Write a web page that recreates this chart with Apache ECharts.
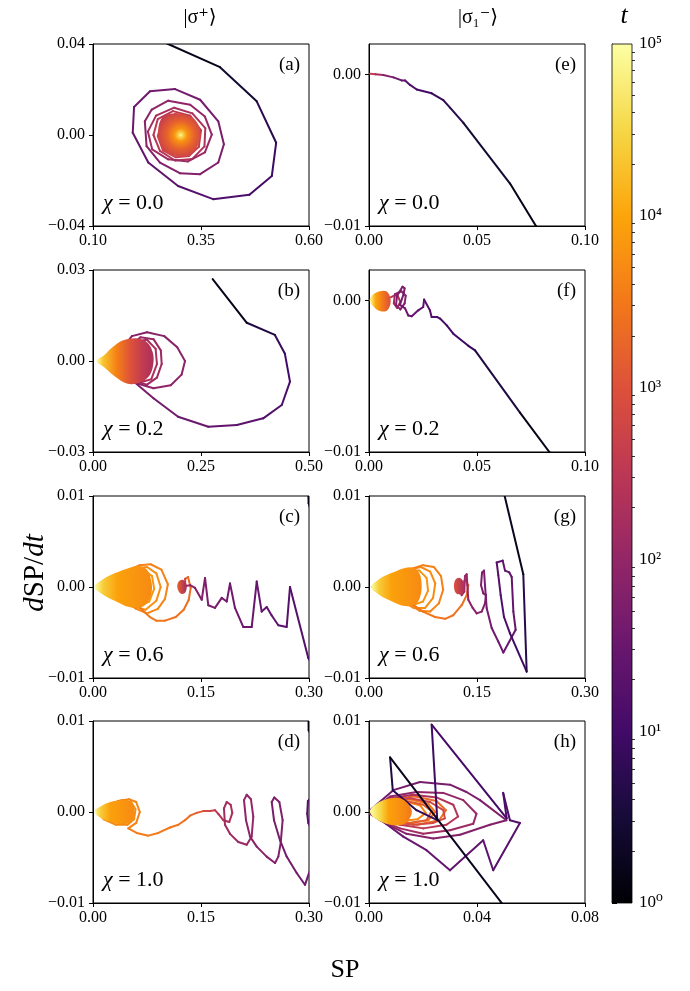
<!DOCTYPE html>
<html><head><meta charset="utf-8">
<script src="https://cdn.jsdelivr.net/npm/echarts@6/dist/echarts.min.js"></script>
<style>html,body{margin:0;padding:0;background:#fff}#c{width:690px;height:991px}</style>
</head><body><div id="c"></div>
<script>
// ---------------- DATA: [SP, dSP/dt, log10 t] ----------------
const xTicksA = [0.10, 0.35, 0.60], yTicksA = [-0.04, 0, 0.04];
const xTicksB = [0, 0.25, 0.5], yTicksB = [-0.03, 0, 0.03];
const xTicksCDG = [0, 0.15, 0.3], yTicks01 = [-0.01, 0, 0.01];
const xTicksEF = [0, 0.05, 0.1], yTicksEF = [-0.01, 0];
const xTicksH = [0, 0.04, 0.08];
const cbarTicks = [0, 1, 2, 3, 4, 5];
const chiValues = ['0.0', '0.2', '0.6', '1.0', '0.0', '0.2', '0.6', '1.0'];
const panelLetters = ['(a)', '(b)', '(c)', '(d)', '(e)', '(f)', '(g)', '(h)'];

const trajA = [
[0.22,0.0446,0],[0.274,0.040,0.1],[0.394,0.0298,0.3],[0.479,0.0148,0.6],[0.524,-0.0034,0.85],[0.514,-0.018,1.0],
[0.462,-0.0263,1.1],[0.378,-0.0282,1.2],[0.297,-0.0224,1.3],[0.228,-0.0121,1.4],[0.192,0.001,1.45],[0.195,0.0123,1.5],
[0.232,0.0192,1.55],[0.29,0.0202,1.6],[0.348,0.0155,1.65],[0.39,0.006,1.7],[0.403,-0.0041,1.72],[0.39,-0.0121,1.75],
[0.348,-0.0172,1.78],[0.301,-0.0168,1.8],[0.255,-0.0121,1.83],[0.224,-0.0049,1.86],[0.22,0.006,1.9],[0.236,0.0112,1.93],
[0.274,0.0151,1.96],[0.325,0.0133,2.0],[0.359,0.0081,2.03],[0.375,0.0002,2.06],[0.359,-0.0076,2.09],[0.32,-0.0116,2.12],
[0.274,-0.0107,2.15],[0.237,-0.0063,2.18],[0.227,0.0015,2.21],[0.246,0.0085,2.24],[0.288,0.012,2.27],[0.33,0.0095,2.3],
[0.36,0.003,2.33],[0.358,-0.005,2.36],[0.33,-0.0105,2.39],[0.29,-0.0112,2.42],[0.255,-0.007,2.45],[0.24,0.0,2.48],
[0.25,0.007,2.5],[0.285,0.0105,2.53],[0.325,0.0085,2.56],[0.35,0.002,2.6],[0.345,-0.0052,2.63],[0.322,-0.0092,2.66],
[0.292,-0.0098,2.69],[0.262,-0.0068,2.72],[0.25,-0.0005,2.75],[0.26,0.0062,2.78],[0.29,0.0092,2.81],[0.322,0.0075,2.84]];
const blobAPts = [[0.265,0.0085],[0.30,0.0095],[0.333,0.0072],[0.348,0.0018],[0.343,-0.0045],[0.324,-0.0087],[0.295,-0.0093],[0.265,-0.007],[0.252,-0.0015],[0.253,0.0048]];
const blobACenter = [0.303, 0.0];
const blobATimes = [[0,5],[0.06,4.6],[0.25,3.8],[0.55,3.2],[0.85,2.8],[1,2.6]];

const trajB = [
[0.277,0.027,0],[0.356,0.0126,0.4],[0.421,0.0086,0.8],[0.444,0.0025,0.95],[0.456,-0.0068,1.05],[0.437,-0.0145,1.15],
[0.394,-0.0189,1.25],[0.333,-0.0211,1.35],[0.267,-0.0217,1.45],[0.197,-0.0184,1.55],[0.14,-0.0123,1.65],[0.09,-0.0063,1.75],
[0.07,-0.002,1.78],[0.07,0.0045,1.8],[0.09,0.0082,1.82],[0.125,0.0095,1.84],[0.165,0.0082,1.86],[0.195,0.0045,1.88],
[0.213,0.0,1.9],[0.205,-0.0045,1.92],[0.18,-0.008,1.94],[0.14,-0.009,1.96],[0.105,-0.0075,1.98],[0.085,-0.0045,2.0],
[0.075,0.0,2.02],[0.085,0.005,2.04],[0.11,0.0078,2.06],[0.14,0.0072,2.08],[0.157,0.0035,2.1],[0.159,-0.001,2.12],
[0.148,-0.0055,2.14],[0.125,-0.0078,2.16],[0.1,-0.0068,2.18],[0.085,-0.004,2.2],[0.08,0.002,2.22],[0.1,0.0065,2.24],
[0.125,0.007,2.26],[0.145,0.004,2.28],[0.148,-0.001,2.3],[0.135,-0.006,2.32],[0.11,-0.007,2.34],[0.09,-0.004,2.36]];
const blobBPts = [[0.008,0.0],[0.025,0.0018],[0.045,0.0045],[0.07,0.0068],[0.1,0.0075],[0.125,0.0062],[0.138,0.003],[0.14,-0.0005],[0.132,-0.0045],[0.11,-0.007],[0.08,-0.0075],[0.05,-0.005],[0.025,-0.002]];
const blobBTimes = [[0,5],[0.12,4.3],[0.35,3.6],[0.6,3.0],[0.8,2.6],[1,2.3]];

const trajC = [
[0.2985,0.0115,0],[0.2995,0.0092,0.2],[0.325,0.002,0.6],[0.312,-0.0095,1.0],[0.299,-0.0078,1.2],[0.2736,0.0,1.25],
[0.269,-0.0044,1.3],[0.2574,-0.0042,1.33],[0.248,-0.0031,1.36],[0.2413,-0.0022,1.4],[0.2343,-0.0027,1.43],[0.2274,0.0006,1.46],
[0.2204,-0.0044,1.5],[0.2088,-0.0044,1.53],[0.1972,-0.0023,1.56],[0.1903,0.0004,1.6],[0.1857,-0.0016,1.63],[0.1788,-0.0012,1.66],
[0.1694,-0.0023,1.7],[0.1601,-0.002,1.73],[0.1556,0.001,1.76],[0.151,-0.0014,1.8],[0.1417,-0.0001,1.85],[0.135,0.0002,1.9],
[0.128,0.0001,2.2],[0.128,0.0009,3.2],[0.132,0.0011,3.3],[0.1357,-0.0001,3.35],[0.133,-0.0014,3.38],[0.126,-0.0025,3.4],
[0.115,-0.0033,3.42],[0.1,-0.0037,3.45],[0.088,-0.0037,3.47],[0.079,-0.0033,3.5],[0.068,-0.0025,3.51],[0.055,-0.0014,3.52],
[0.04,-0.0006,3.53],[0.02,-0.0001,3.54],[0.005,0.0,3.55],[0.02,0.0006,3.56],[0.045,0.0017,3.57],[0.065,0.0024,3.58],
[0.08,0.0025,3.6],[0.095,0.0019,3.61],[0.104,0.0003,3.62],[0.1,-0.0013,3.63],[0.09,-0.0024,3.64],[0.075,-0.0029,3.65],
[0.06,-0.0024,3.66],[0.04,-0.0013,3.67],[0.015,-0.0003,3.68],[0.005,0.0,3.7],[0.03,0.001,3.71],[0.055,0.002,3.72],
[0.075,0.0022,3.73],[0.088,0.0015,3.74],[0.094,0.0,3.75],[0.088,-0.0015,3.76],[0.073,-0.0025,3.77],[0.055,-0.0021,3.78],
[0.03,-0.001,3.79],[0.005,0.0,3.8],[0.03,0.0011,3.81],[0.055,0.0019,3.82],[0.07,0.0019,3.83],[0.082,0.0012,3.84],
[0.085,-0.0002,3.85],[0.078,-0.0016,3.86],[0.062,-0.0022,3.87],[0.04,-0.0015,3.88],[0.01,-0.0003,3.9]];
const blobCSmallPts = [[0.117,0.0],[0.119,0.0006],[0.124,0.0008],[0.129,0.0005],[0.13,-0.0002],[0.127,-0.0007],[0.121,-0.0007]];
const blobCSmallTimes = [[0,3.2],[1,2.2]];
const blobCPts = [[0.002,0.0],[0.015,0.0009],[0.03,0.0015],[0.05,0.0021],[0.065,0.0023],[0.075,0.0019],[0.08,0.001],[0.082,-0.0002],[0.078,-0.0014],[0.068,-0.0022],[0.05,-0.0022],[0.03,-0.0015],[0.015,-0.0009]];
const blobCTimes = [[0,5],[0.15,4.4],[0.4,3.95],[1,3.7]];

const trajD = [
[0.2992,0.0115,0],[0.2995,0.009,0.2],[0.33,0.004,0.7],[0.305,0.0018,1.1],[0.2985,0.0012,1.2],[0.2975,-0.0002,1.25],
[0.299,-0.0012,1.3],[0.31,-0.003,1.4],[0.3014,-0.0064,1.5],[0.2944,-0.008,1.55],[0.2829,-0.0067,1.6],[0.269,-0.0049,1.64],
[0.2597,-0.0031,1.67],[0.2514,-0.0009,1.7],[0.2482,0.0011,1.72],[0.2518,0.0016,1.74],[0.2588,0.0011,1.76],[0.2634,-0.0009,1.78],
[0.2607,-0.0034,1.8],[0.2574,-0.0049,1.82],[0.2528,-0.0056,1.84],[0.2412,-0.0049,1.87],[0.2274,-0.0038,1.9],[0.2181,-0.0027,1.93],
[0.2125,-0.0009,1.96],[0.2097,0.0013,1.98],[0.2135,0.0019,2.0],[0.2194,0.0014,2.02],[0.2226,-0.0005,2.04],[0.2204,-0.0027,2.06],
[0.2135,-0.0036,2.08],[0.2018,-0.0033,2.1],[0.1903,-0.0024,2.13],[0.1833,-0.0014,2.16],[0.1819,0.0004,2.19],[0.1857,0.0011,2.22],
[0.1912,0.0008,2.25],[0.1935,-0.0001,2.28],[0.1893,-0.0011,2.31],[0.181,-0.0009,2.35],[0.174,-0.0002,2.45],[0.1694,0.0002,2.6],
[0.1625,0.0001,2.8],[0.1532,0.0001,3.0],[0.144,-0.0001,3.2],[0.1347,-0.0004,3.35],[0.1278,-0.0009,3.42],[0.1185,-0.0014,3.46],
[0.1069,-0.0017,3.5],[0.0907,-0.0023,3.52],[0.0768,-0.0026,3.54],[0.0607,-0.0023,3.56],[0.049,-0.0018,3.58],[0.06,-0.0012,3.6],
[0.065,0.0,3.61],[0.06,0.0011,3.62],[0.05,0.0014,3.63],[0.035,0.0012,3.64],[0.02,0.0008,3.65],[0.005,0.0001,3.66],
[0.015,-0.0008,3.67],[0.032,-0.0014,3.68],[0.048,-0.0014,3.69],[0.057,-0.0008,3.7],[0.059,0.0003,3.71],[0.053,0.0011,3.72],
[0.04,0.0013,3.73],[0.02,0.0008,3.74],[0.005,0.0001,3.75],[0.02,-0.0009,3.76],[0.04,-0.0013,3.77],[0.052,-0.0011,3.78],
[0.057,-0.0002,3.79],[0.054,0.0008,3.8],[0.045,0.0013,3.81],[0.025,0.001,3.82],[0.005,0.0002,3.85]];
const blobDPts = [[0.002,0.0],[0.012,0.0007],[0.025,0.0011],[0.04,0.0013],[0.05,0.0012],[0.056,0.0006],[0.057,-0.0003],[0.053,-0.001],[0.04,-0.0013],[0.025,-0.0011],[0.012,-0.0007]];
const blobDTimes = [[0,5],[0.15,4.4],[0.4,3.95],[1,3.7]];

const trajE = [
[0.080,-0.0105,0],[0.0773,-0.0100,0.05],[0.0653,-0.0072,0.3],[0.0437,-0.0032,0.6],[0.0375,-0.0022,0.75],[0.0344,-0.0017,0.8],
[0.029,-0.00125,0.95],[0.0221,-0.001,1.1],[0.019,-0.0007,1.2],[0.0167,-0.0004,1.3],[0.0151,-0.0004,1.4],[0.0113,-0.0002,1.65],
[0.0066,-0.00005,2.0],[0.003,0.0,2.4],[0.0005,0.00004,2.8]];

const trajF = [
[0.086,-0.0105,0],[0.0835,-0.0100,0.05],[0.0699,-0.0074,0.35],[0.0491,-0.0033,0.85],[0.046,-0.003,0.9],[0.039,-0.0022,1.0],
[0.036,-0.00165,1.05],[0.0329,-0.0012,1.1],[0.0316,-0.0011,1.15],[0.029,-0.0011,1.2],[0.0282,-0.00066,1.25],[0.0255,0.00005,1.3],
[0.0251,-0.00044,1.35],[0.0228,-0.00066,1.4],[0.0198,-0.00105,1.45],[0.0182,-0.001,1.5],[0.0167,-0.00053,1.55],[0.0143,-0.0003,1.6],
[0.016,0.0004,1.65],[0.0165,0.0008,1.7],[0.0155,0.0009,1.72],[0.013,0.0003,1.75],[0.0125,-0.0003,1.8],[0.0145,-0.0006,1.83],
[0.0165,-0.0002,1.86],[0.017,0.0003,1.9],[0.015,0.0006,1.95],[0.012,0.0004,2.0],[0.0115,-0.0002,2.1],[0.013,-0.0005,2.2],
[0.0145,-0.0001,2.3],[0.013,0.0004,2.4],[0.01,0.0002,2.6]];
const blobFPts = [[0.0003,0.0],[0.002,0.0004],[0.005,0.0006],[0.008,0.0006],[0.0098,0.0002],[0.0098,-0.0003],[0.008,-0.0007],[0.005,-0.0007],[0.002,-0.0004]];
const blobFTimes = [[0,5],[0.3,4.0],[0.7,3.4],[1,3.0]];

const trajG = [
[0.1875,0.0103,0],[0.2143,0.0014,0.5],[0.219,-0.0093,0.9],[0.1958,-0.0051,1.1],[0.1875,-0.0033,1.15],[0.1829,-0.0009,1.2],
[0.1796,0.0013,1.25],[0.1773,0.0027,1.3],[0.1857,0.0029,1.33],[0.1889,0.0018,1.36],[0.1949,0.0016,1.38],[0.1982,0.0011,1.4],
[0.2005,-0.0027,1.43],[0.2037,-0.0047,1.46],[0.1866,-0.0072,1.5],[0.1796,-0.006,1.55],[0.1704,-0.0045,1.6],[0.1634,-0.0023,1.65],
[0.1611,0.0002,1.68],[0.1597,0.0018,1.7],[0.157,0.0016,1.72],[0.1556,0.0002,1.74],[0.1588,-0.0007,1.76],[0.1625,-0.0009,1.78],
[0.1611,-0.0018,1.8],[0.1565,-0.0027,1.83],[0.1496,-0.0029,1.86],[0.144,-0.0023,1.9],[0.1379,-0.0014,1.95],[0.1366,0.0002,2.0],
[0.1357,0.0014,2.05],[0.1333,0.0012,2.1],[0.1324,-0.0005,2.15],[0.1287,-0.0009,2.25],[0.126,0.0,2.5],
[0.1333,0.0008,3.3],[0.1379,0.0002,3.32],[0.1357,-0.0009,3.35],[0.1287,-0.002,3.4],[0.1171,-0.0031,3.42],[0.1056,-0.0035,3.45],
[0.0917,-0.0033,3.47],[0.075,-0.0027,3.5],[0.055,-0.0016,3.51],[0.03,-0.0006,3.53],[0.005,0.0,3.55],[0.03,0.0009,3.56],
[0.055,0.0019,3.57],[0.075,0.0024,3.58],[0.09,0.0022,3.59],[0.1,0.0012,3.6],[0.103,-0.0003,3.61],[0.097,-0.0018,3.62],
[0.085,-0.0027,3.63],[0.07,-0.0026,3.64],[0.05,-0.0016,3.65],[0.025,-0.0006,3.66],[0.005,0.0,3.67],[0.03,0.001,3.68],
[0.055,0.0019,3.69],[0.072,0.0022,3.7],[0.085,0.0017,3.71],[0.092,0.0004,3.72],[0.089,-0.0012,3.73],[0.078,-0.0023,3.74],
[0.062,-0.0023,3.75],[0.04,-0.0013,3.76],[0.01,-0.0002,3.77],[0.005,0.0,3.78],[0.03,0.001,3.79],[0.055,0.0018,3.8],
[0.07,0.0018,3.81],[0.08,0.001,3.82],[0.082,-0.0004,3.83],[0.075,-0.0016,3.84],[0.06,-0.002,3.85],[0.035,-0.0012,3.86],[0.01,-0.0002,3.88]];
const blobGSmallPts = [[0.118,0.0],[0.12,0.0008],[0.126,0.001],[0.131,0.0006],[0.132,-0.0003],[0.128,-0.0008],[0.121,-0.0007]];
const blobGSmallTimes = [[0,3.0],[1,2.3]];
const blobGPts = [[0.003,0.0],[0.015,0.0009],[0.03,0.0015],[0.05,0.0021],[0.062,0.0021],[0.07,0.0015],[0.073,0.0004],[0.072,-0.0008],[0.066,-0.0018],[0.05,-0.0021],[0.03,-0.0015],[0.015,-0.0009]];
const blobGTimes = [[0,5],[0.15,4.4],[0.4,3.95],[1,3.7]];

const trajH = [
[0.0512,-0.0108,0],[0.0078,0.006,0.5],[0.0088,0.0024,0.7],[0.0176,0.0002,0.8],[0.0253,-0.0009,0.9],[0.0232,0.0096,1.0],
[0.051,-0.0007,1.1],[0.0497,0.0021,1.15],[0.0522,-0.0009,1.2],[0.0559,-0.0012,1.25],[0.046,-0.0064,1.3],[0.0423,-0.0031,1.35],
[0.03,-0.0064,1.4],[0.0213,-0.0042,1.45],[0.0127,-0.0027,1.5],[0.004,-0.0008,1.55],
[0.0004,0.0002,1.6],[0.009,0.0024,1.63],[0.0189,0.0033,1.66],[0.03,0.003,1.69],[0.0361,0.0022,1.72],[0.0411,0.0013,1.75],
[0.0509,-0.0009,1.78],[0.0448,-0.0014,1.8],[0.0337,-0.0025,1.82],[0.0238,-0.0029,1.84],[0.0139,-0.0024,1.86],[0.0065,-0.0013,1.88],
[0.0004,-0.0002,1.9],[0.001,0.0002,1.92],[0.0078,0.0017,1.95],[0.0176,0.0022,1.98],[0.0275,0.0021,2.0],[0.0349,0.0013,2.03],
[0.0398,-0.0002,2.06],[0.0386,-0.0013,2.09],[0.03,-0.002,2.12],[0.0201,-0.0024,2.15],[0.0115,-0.0018,2.18],[0.0041,-0.0009,2.2],
[0.001,0.0,2.22],[0.0078,0.0015,2.26],[0.0164,0.0019,2.3],[0.025,0.0016,2.34],[0.0312,0.0008,2.38],[0.033,-0.0005,2.42],
[0.0287,-0.0014,2.46],[0.0201,-0.0018,2.5],[0.0115,-0.0014,2.54],[0.0047,-0.0007,2.58],[0.001,0.0,2.62],[0.0071,0.0012,2.66],
[0.0152,0.0015,2.7],[0.0226,0.0011,2.74],[0.0275,0.0002,2.78],[0.0281,-0.0007,2.82],[0.0238,-0.0012,2.86],[0.0164,-0.0014,2.9],
[0.009,-0.0011,2.94],[0.0035,-0.0004,2.98],[0.001,0.0,3.0],[0.0065,0.001,3.03],[0.0139,0.0012,3.06],[0.0201,0.0008,3.09],
[0.0232,0.0001,3.12],[0.0213,-0.0009,3.15],[0.0152,-0.0012,3.18],[0.0078,-0.0008,3.21],[0.0028,-0.0003,3.24],[0.001,0.0,3.26],
[0.008,0.0014,3.28],[0.017,0.0017,3.3],[0.025,0.0012,3.32],[0.0285,0.0002,3.34],[0.026,-0.0009,3.36],[0.018,-0.0014,3.38],
[0.009,-0.0011,3.4],[0.003,-0.0004,3.42],[0.001,0.0,3.43],[0.007,0.0012,3.45],[0.015,0.0014,3.47],[0.022,0.0009,3.49],
[0.0245,0.0,3.51],[0.022,-0.0009,3.53],[0.015,-0.0012,3.55],[0.007,-0.0009,3.57],[0.002,-0.0003,3.59],[0.001,0.0,3.6],
[0.006,0.001,3.62],[0.013,0.0012,3.64],[0.019,0.0007,3.66],[0.021,-0.0001,3.68],[0.018,-0.0008,3.7],[0.012,-0.001,3.72],
[0.006,-0.0007,3.74],[0.001,0.0,3.76]];
const blobHPts = [[0.0004,0.0002],[0.0053,0.0013],[0.0115,0.0015],[0.0152,0.0006],[0.0158,-0.0002],[0.0133,-0.0013],[0.0078,-0.0014],[0.0022,-0.0007]];
const blobHTimes = [[0,5],[0.25,4.5],[0.45,3.95],[0.8,3.7],[1,3.5]];

// ---------------- rendering ----------------
const FONT = '"Liberation Serif", "DejaVu Serif", serif';
const INFERNO = ['#000004','#160b39','#420a68','#6a176e','#932667','#bc3754','#dd513a','#f37819','#fca50a','#f6d746','#fcffa4'];
function hex(h){return [parseInt(h.slice(1,3),16),parseInt(h.slice(3,5),16),parseInt(h.slice(5,7),16)];}
function inferno(f){
  f = Math.max(0, Math.min(1, f));
  const s = f*10, i = Math.min(9, Math.floor(s)), r = s - i;
  const a = hex(INFERNO[i]), b = hex(INFERNO[i+1]);
  return 'rgb(' + a.map((v,k)=>Math.round(v+(b[k]-v)*r)).join(',') + ')';
}
const LT_MAX = 5;

const GL = [93, 369], GT = [44, 270, 496, 721], GW = 216, GH = 182;
const panels = [
  {col:0,row:0,x:[0.10,0.60],xt:xTicksA,y:[-0.04,0.04],yt:yTicksA,traj:trajA,
   blobs:[{pts:blobAPts,times:blobATimes,radial:true,center:blobACenter}]},
  {col:0,row:1,x:[0,0.5],xt:xTicksB,y:[-0.03,0.03],yt:yTicksB,traj:trajB,
   blobs:[{pts:blobBPts,times:blobBTimes}]},
  {col:0,row:2,x:[0,0.3],xt:xTicksCDG,y:[-0.01,0.01],yt:yTicks01,traj:trajC,
   blobs:[{pts:blobCSmallPts,times:blobCSmallTimes},{pts:blobCPts,times:blobCTimes}]},
  {col:0,row:3,x:[0,0.3],xt:xTicksCDG,y:[-0.01,0.01],yt:yTicks01,traj:trajD,
   blobs:[{pts:blobDPts,times:blobDTimes}]},
  {col:1,row:0,x:[0,0.1],xt:xTicksEF,y:[-0.01,0.002],yt:yTicksEF,traj:trajE,blobs:[]},
  {col:1,row:1,x:[0,0.1],xt:xTicksEF,y:[-0.01,0.002],yt:yTicksEF,traj:trajF,
   blobs:[{pts:blobFPts,times:blobFTimes}]},
  {col:1,row:2,x:[0,0.3],xt:xTicksCDG,y:[-0.01,0.01],yt:yTicks01,traj:trajG,
   blobs:[{pts:blobGSmallPts,times:blobGSmallTimes},{pts:blobGPts,times:blobGTimes}]},
  {col:1,row:3,x:[0,0.08],xt:xTicksH,y:[-0.01,0.01],yt:yTicks01,traj:trajH,
   blobs:[{pts:blobHPts,times:blobHTimes}]}
];

const fmt2 = v => (v < 0 ? '\u2212' : '') + Math.abs(v).toFixed(2);
const grid = [], xAxis = [], yAxis = [], series = [], graphic = [];

function segRender(params, api){
  const p1 = api.coord([api.value(0), api.value(1)]);
  const p2 = api.coord([api.value(2), api.value(3)]);
  return {type:'line', shape:{x1:p1[0],y1:p1[1],x2:p2[0],y2:p2[1]},
          style:{stroke: inferno(api.value(4)/LT_MAX), lineWidth:2, lineCap:'round'}};
}
function blobRender(blob){
  return function(params, api){
    if (params.dataIndex !== 0) return null;
    const pts = blob.pts.map(p => api.coord(p));
    const stops = blob.times.map(s => ({offset:s[0], color: inferno(s[1]/LT_MAX)}));
    let fill;
    if (blob.radial){
      const c = api.coord(blob.center);
      let r = 0; pts.forEach(p => { r = Math.max(r, Math.hypot(p[0]-c[0], p[1]-c[1])); });
      fill = new echarts.graphic.RadialGradient(c[0], c[1], r, stops, true);
    } else {
      let mn = Infinity, mx = -Infinity;
      pts.forEach(p => { mn = Math.min(mn, p[0]); mx = Math.max(mx, p[0]); });
      fill = new echarts.graphic.LinearGradient(mn, 0, mx, 0, stops, true);
    }
    return {type:'polygon', shape:{points:pts, smooth:0.35}, style:{fill: fill}};
  };
}

panels.forEach((p, i) => {
  const left = GL[p.col], top = GT[p.row];
  grid.push({left:left, top:top, width:GW, height:GH, show:true, borderColor:'#000', borderWidth:1, backgroundColor:'#fff'});
  const axCommon = {
    gridIndex:i, type:'value', scale:false,
    axisLine:{show:true, onZero:false, lineStyle:{color:'#000', width:1}},
    splitLine:{show:false}
  };
  xAxis.push(Object.assign({}, axCommon, {
    min:p.x[0], max:p.x[1], position:'bottom',
    axisTick:{show:true, length:4, customValues:p.xt, lineStyle:{color:'#000'}},
    axisLabel:{customValues:p.xt, formatter:fmt2, color:'#000', fontFamily:FONT, fontSize:16, margin:7}
  }));
  yAxis.push(Object.assign({}, axCommon, {
    min:p.y[0], max:p.y[1], position:'left',
    axisTick:{show:true, length:4, customValues:p.yt, lineStyle:{color:'#000'}},
    axisLabel:{customValues:p.yt, formatter:fmt2, color:'#000', fontFamily:FONT, fontSize:16, margin:8}
  }));
  const segs = [];
  for (let k = p.traj.length - 1; k >= 1; k--){
    const a = p.traj[k-1], b = p.traj[k];
    segs.push([a[0], a[1], b[0], b[1], (a[2]+b[2])/2]);
  }
  series.push({type:'custom', xAxisIndex:i, yAxisIndex:i, clip:true, silent:true, animation:false,
    encode:{x:[0,2], y:[1,3]}, data:segs, renderItem:segRender});
  p.blobs.forEach(bl => {
    series.push({type:'custom', xAxisIndex:i, yAxisIndex:i, clip:true, silent:true, animation:false,
      encode:{x:0, y:1}, data:bl.pts, renderItem:blobRender(bl)});
  });
  graphic.push({type:'text', x:left+GW-9, y:top+21, z:100, style:{text:panelLetters[i], font:'19px ' + FONT, fill:'#000', align:'right', verticalAlign:'middle'}});
  graphic.push({type:'text', x:left+10, y:top+GH-23, z:100, style:{
    text:'{i|\u03c7}{n| = ' + chiValues[i] + '}',
    rich:{i:{fontFamily:FONT, fontSize:22, fontStyle:'italic', fill:'#000'}, n:{fontFamily:FONT, fontSize:22, fill:'#000'}},
    align:'left', verticalAlign:'middle'}});
});

// colorbar
const CB = 8;
grid.push({left:612, top:44, width:20, height:859, show:true, borderColor:'#000', borderWidth:0.8, backgroundColor:'transparent', z:3});
xAxis.push({gridIndex:CB, type:'value', min:0, max:1, show:false});
const SUP = ['\u2070','\u00b9','\u00b2','\u00b3','\u2074','\u2075'];
yAxis.push({gridIndex:CB, type:'value', min:0, max:5, position:'right',
  axisLine:{show:true, lineStyle:{color:'#000', width:0.8}}, splitLine:{show:false},
  axisTick:{show:true, length:5, customValues:cbarTicks, lineStyle:{color:'#000'}},
  axisLabel:{customValues:cbarTicks, formatter: v => '10' + SUP[Math.round(v)], color:'#000', fontFamily:FONT, fontSize:17, margin:7}});
const minor = [];
for (let d = 0; d < 5; d++) for (let k = 2; k <= 9; k++) minor.push(d + Math.log10(k));
yAxis.push({gridIndex:CB, type:'value', min:0, max:5, position:'right',
  axisLine:{show:false}, splitLine:{show:false}, axisLabel:{show:false},
  axisTick:{show:true, length:3, customValues:minor, lineStyle:{color:'#000', width:0.8}}});
series.push({type:'custom', xAxisIndex:CB, yAxisIndex:CB, silent:true, animation:false, data:[[0,0]],
  renderItem:function(params, api){
    const p0 = api.coord([0,5]), p1 = api.coord([1,0]);
    const stops = [];
    for (let k = 0; k <= 20; k++) stops.push({offset:k/20, color: inferno(1 - k/20)});
    return {type:'rect', shape:{x:p0[0], y:p0[1], width:p1[0]-p0[0], height:p1[1]-p0[1]},
            style:{fill:new echarts.graphic.LinearGradient(0,0,0,1,stops)}};
  }});

// titles and axis labels
graphic.push({type:'text', x:200, y:18, style:{text:'|\u03c3\u207a\u27e9', font:'20px ' + FONT, fill:'#000', align:'center', verticalAlign:'middle'}});
graphic.push({type:'text', x:478, y:18, style:{text:'|\u03c3\u2081\u207b\u27e9', font:'20px ' + FONT, fill:'#000', align:'center', verticalAlign:'middle'}});
graphic.push({type:'text', x:624, y:16, style:{text:'t', font:'italic 26px ' + FONT, fill:'#000', align:'center', verticalAlign:'middle'}});
graphic.push({type:'text', x:345, y:970, style:{text:'SP', font:'26px ' + FONT, fill:'#000', align:'center', verticalAlign:'middle'}});
graphic.push({type:'text', x:35, y:573, rotation:Math.PI/2, style:{
  text:'{i|d}{n|SP/}{i|dt}',
  rich:{i:{fontFamily:FONT, fontSize:29, fontStyle:'italic', fill:'#000'}, n:{fontFamily:FONT, fontSize:29, fill:'#000'}},
  align:'center', verticalAlign:'middle'}});

const chart = echarts.init(document.getElementById('c'), null, {renderer:'canvas'});
chart.setOption({animation:false, backgroundColor:'#fff', grid, xAxis, yAxis, series, graphic});
</script></body></html>
